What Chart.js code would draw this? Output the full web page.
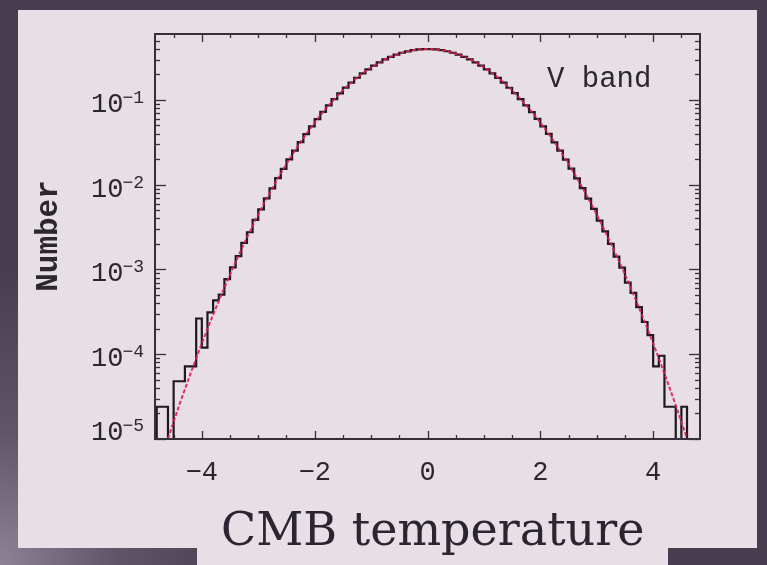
<!DOCTYPE html>
<html>
<head>
<meta charset="utf-8">
<script src="https://cdn.jsdelivr.net/npm/chart.js@4.4.1/dist/chart.umd.min.js"></script>
<style>
  html, body { margin: 0; padding: 0; width: 767px; height: 565px; overflow: hidden; }
  body {
    position: relative;
    background: radial-gradient(ellipse 260px 300px at 0% 100%, #8c8496 0%, #5e5668 45%, rgba(68,61,76,0) 100%), #463e4e;
  }
  #panel { position: absolute; left: 18px; top: 10px; width: 739px; height: 538px; background: #e7dee6; }
  #tab { position: absolute; left: 197px; top: 540px; width: 471px; height: 25px; background: #e7dee6; }
  #c { position: absolute; left: 0; top: 0; }
</style>
</head>
<body>
<div id="panel"></div>
<div id="tab"></div>
<canvas id="c" width="767" height="565"></canvas>
<script>
// histogram: 96 bins of width 0.1 from -4.8 to 4.8 (density per bin, 0 = empty bin)
var BIN_START = -4.8;
var BIN_WIDTH = 0.1;
var histValues = [
  2.4e-5, 2.4e-5, 0, 4.8e-5, 4.8e-5, 7.2e-5, 7.2e-5, 2.64e-4,
  1.2e-4, 3.12e-4, 4.32e-4, 5.04e-4, 7.7e-4, 1.06e-3, 1.44e-3, 2.06e-3,
  2.75e-3, 3.84e-3, 5.12e-3, 6.90e-3, 9.05e-3, 0.01195, 0.01541, 0.01989,
  0.02518, 0.0318, 0.0395, 0.0489, 0.0595, 0.0722, 0.0862, 0.1024,
  0.1199, 0.1395, 0.1603, 0.1827, 0.2058, 0.2300, 0.2540, 0.2781,
  0.3010, 0.3231, 0.3428, 0.3606, 0.3751, 0.3868, 0.3944, 0.3985,
  0.3983, 0.3946, 0.3866, 0.3753, 0.3604, 0.3430, 0.3229, 0.3012,
  0.2779, 0.2542, 0.2298, 0.2060, 0.1825, 0.1605, 0.1393, 0.1201,
  0.1022, 0.0864, 0.0720, 0.0597, 0.0487, 0.0397, 0.0316, 0.02526,
  0.01979, 0.01549, 0.01188, 9.12e-3, 6.85e-3, 5.2e-3, 3.78e-3, 2.82e-3,
  2.0e-3, 1.42e-3, 1.05e-3, 7.0e-4, 5.3e-4, 3.6e-4, 2.4e-4, 1.68e-4,
  7.2e-5, 9.6e-5, 2.4e-5, 2.4e-5, 0, 2.4e-5, 0, 0
];

// red fitted curve
var curveX = [
  -4.8, -4.6, -4.4, -4.2, -4.0, -3.8, -3.6, -3.4, -3.2, -3.0, -2.8, -2.6, -2.4,
  -2.2, -2.0, -1.8, -1.6, -1.4, -1.2, -1.0, -0.8, -0.6, -0.4, -0.2, 0,
  0.2, 0.4, 0.6, 0.8, 1.0, 1.2, 1.4, 1.6, 1.8, 2.0, 2.2, 2.4,
  2.6, 2.8, 3.0, 3.2, 3.4, 3.6, 3.8, 4.0, 4.2, 4.4, 4.6, 4.8
];
var curveY = [
  3.97e-6, 1.01e-5, 2.50e-5, 5.90e-5, 1.34e-4, 2.92e-4, 6.12e-4, 1.23e-3, 2.38e-3, 4.43e-3, 7.92e-3, 0.0136, 0.0224,
  0.0355, 0.0540, 0.0790, 0.111, 0.150, 0.194, 0.242, 0.290, 0.333, 0.368, 0.391, 0.399,
  0.391, 0.368, 0.333, 0.290, 0.242, 0.194, 0.150, 0.111, 0.0790, 0.0540, 0.0355, 0.0224,
  0.0136, 7.92e-3, 4.43e-3, 2.38e-3, 1.23e-3, 6.12e-4, 2.92e-4, 1.34e-4, 5.90e-5, 2.50e-5, 1.01e-5, 3.97e-6
];

// axis ticks
var xTickLabels = [-4, -2, 0, 2, 4];
var yTickExponents = [-5, -4, -3, -2, -1];

var X_MIN = -4.83, X_MAX = 4.83;
var Y_MIN = 1e-5, Y_MAX = 0.6;
var Y_FLOOR = 1e-7; // empty bins drop below the axis

var MONO = '"Liberation Mono", "DejaVu Sans Mono", monospace';
var INK = '#2b272e';

// step outline of the histogram
var histPoints = [{ x: BIN_START, y: Y_FLOOR }];
histValues.forEach(function(v, i) {
    histPoints.push({ x: BIN_START + i * BIN_WIDTH, y: v > 0 ? v : Y_FLOOR });
});
histPoints.push({ x: BIN_START + histValues.length * BIN_WIDTH, y: Y_FLOOR });

var curvePoints = curveX.map(function(x, i) { return { x: x, y: curveY[i] }; });

// frame with inward ticks, tick labels and titles
var framePlugin = {
    id: 'frame',
    afterDatasetsDraw: function(chart) {
        var ctx = chart.ctx;
        var a = chart.chartArea;
        var xs = chart.scales.x;
        var ys = chart.scales.y;

        ctx.save();
        ctx.strokeStyle = '#35303a';

        function tick(x1, y1, x2, y2) {
            ctx.beginPath();
            ctx.moveTo(x1, y1);
            ctx.lineTo(x2, y2);
            ctx.stroke();
        }

        // x ticks, every 0.5, major at labels
        ctx.lineWidth = 1.3;
        for (var k = -9; k <= 9; k++) {
            var v = k / 2;
            var px = Math.round(xs.getPixelForValue(v)) + 0.5;
            var len = xTickLabels.indexOf(v) >= 0 ? 8 : 4;
            tick(px, a.bottom, px, a.bottom - len);
            tick(px, a.top, px, a.top + len);
        }

        // y ticks, 1..9 per decade
        yTickExponents.forEach(function(e) {
            for (var m = 1; m <= 9; m++) {
                var val = m * Math.pow(10, e);
                if (val < Y_MIN || val > Y_MAX) continue;
                var py = Math.round(ys.getPixelForValue(val)) + 0.5;
                var len = m === 1 ? 11 : 5;
                tick(a.left, py, a.left + len, py);
                tick(a.right, py, a.right - len, py);
            }
        });

        // frame
        ctx.lineWidth = 2;
        ctx.strokeRect(a.left, a.top, a.right - a.left, a.bottom - a.top);

        ctx.fillStyle = INK;

        // y tick labels 10^e
        yTickExponents.forEach(function(e) {
            var py = ys.getPixelForValue(Math.pow(10, e));
            var base = Math.min(py + 12, a.bottom + 1);
            var exp = '\u2212' + (-e);
            ctx.font = '18px ' + MONO;
            var ew = ctx.measureText(exp).width;
            var right = a.left - 11;
            ctx.textAlign = 'left';
            ctx.textBaseline = 'alphabetic';
            ctx.fillText(exp, right - ew, base - 9);
            ctx.font = '27px ' + MONO;
            ctx.textAlign = 'right';
            ctx.fillText('10', right - ew + 1, base);
        });

        // x tick labels
        ctx.font = '27px ' + MONO;
        ctx.textAlign = 'center';
        ctx.textBaseline = 'alphabetic';
        xTickLabels.forEach(function(v) {
            var label = v < 0 ? '\u2212' + (-v) : String(v);
            ctx.fillText(label, xs.getPixelForValue(v), a.bottom + 41);
        });

        // in-plot label
        ctx.font = '29px ' + MONO;
        ctx.textAlign = 'left';
        ctx.fillText('V band', 547, 87);

        // y title
        ctx.save();
        ctx.translate(49, 236);
        ctx.rotate(-Math.PI / 2);
        ctx.font = 'bold 31px ' + MONO;
        ctx.textAlign = 'center';
        ctx.textBaseline = 'middle';
        ctx.fillText('Number', 0, 0);
        ctx.restore();

        // x title
        ctx.font = '46px "DejaVu Serif", serif';
        ctx.fillStyle = '#2a2530';
        ctx.textAlign = 'left';
        ctx.textBaseline = 'alphabetic';
        ctx.fillText('CMB temperature', 221, 545);

        ctx.restore();
    }
};

new Chart(document.getElementById('c'), {
    type: 'line',
    data: {
        datasets: [{
            label: 'Gaussian',
            data: curvePoints,
            borderColor: 'rgba(222, 30, 80, 0.9)',
            borderWidth: 2,
            borderDash: [4, 2],
            pointRadius: 0,
            cubicInterpolationMode: 'monotone',
            order: 0
        }, {
            label: 'Histogram',
            data: histPoints,
            borderColor: '#1d191f',
            borderWidth: 2.2,
            stepped: true,
            pointRadius: 0,
            order: 1
        }]
    },
    options: {
        responsive: false,
        animation: false,
        devicePixelRatio: 1,
        layout: { padding: { left: 155, right: 67, top: 34, bottom: 126 } },
        scales: {
            x: { type: 'linear', min: X_MIN, max: X_MAX, display: false },
            y: { type: 'logarithmic', min: Y_MIN, max: Y_MAX, display: false }
        },
        plugins: {
            legend: { display: false },
            tooltip: { enabled: false }
        }
    },
    plugins: [framePlugin]
});
</script>
</body>
</html>
